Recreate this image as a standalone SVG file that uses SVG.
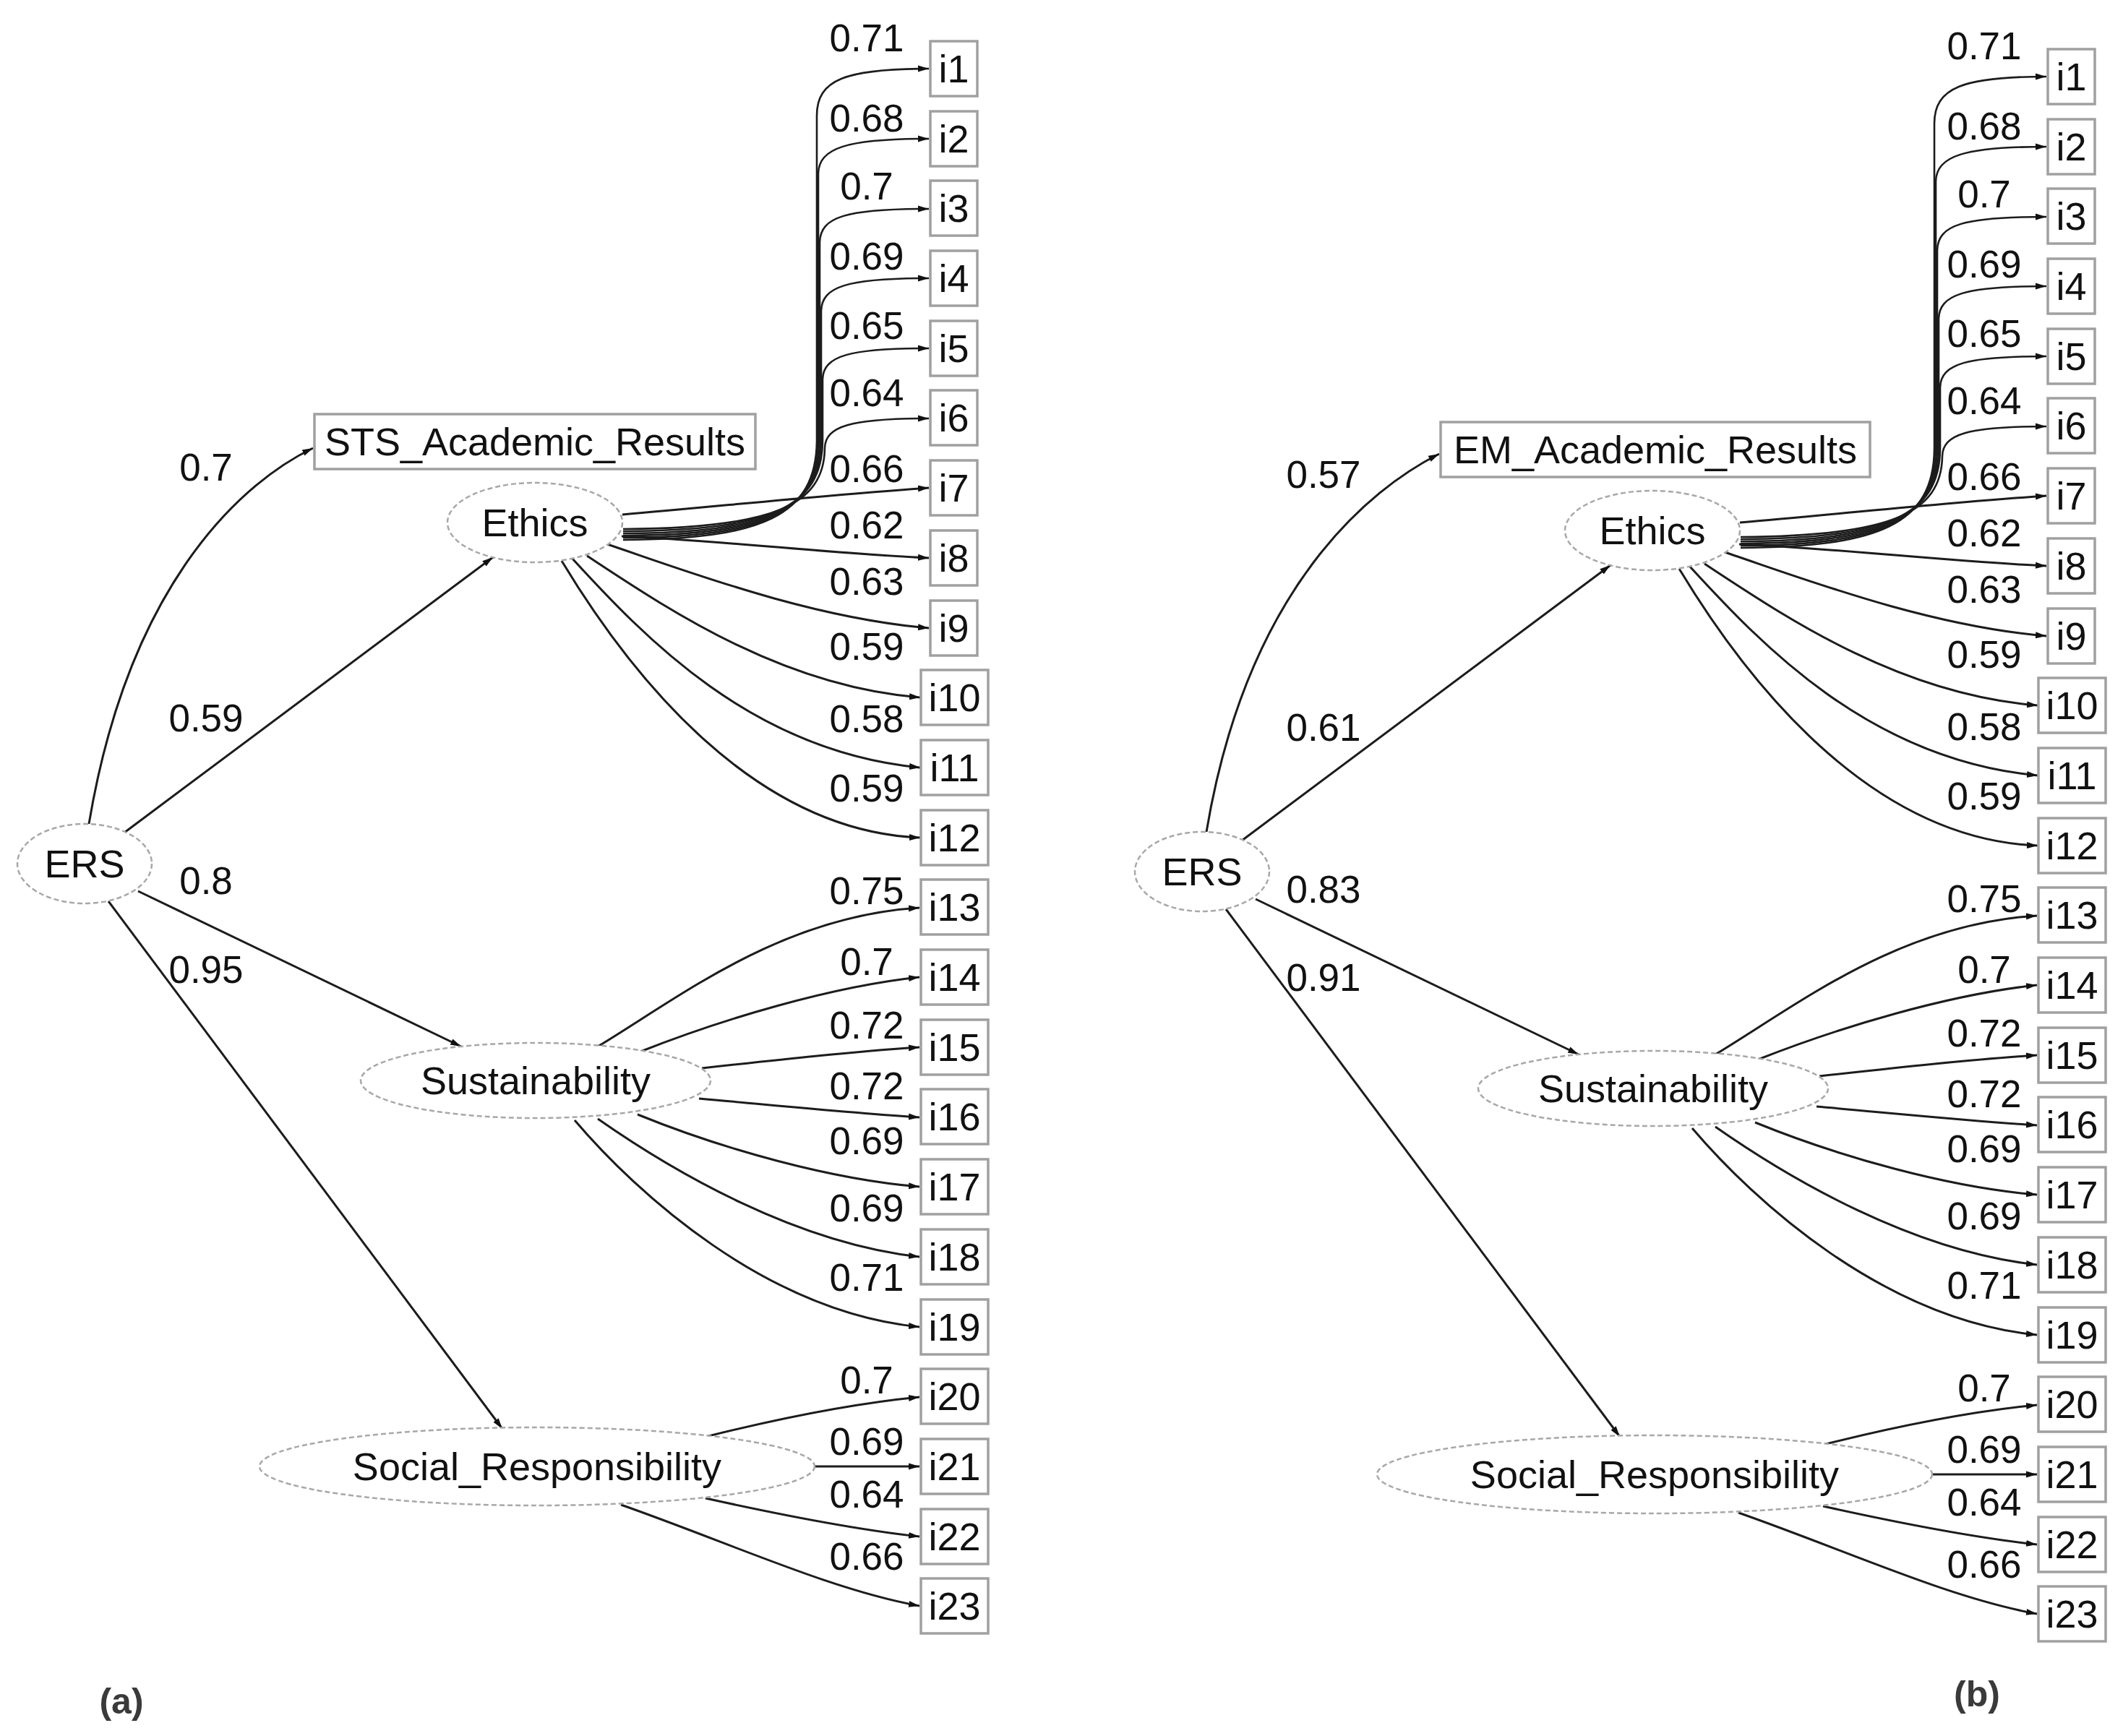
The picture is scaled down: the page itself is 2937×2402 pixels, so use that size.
<svg xmlns="http://www.w3.org/2000/svg" width="2937" height="2402" viewBox="0 0 2937 2402">
<style>
.box{fill:#fff;stroke:#a0a0a0;stroke-width:3.5}
.lat{fill:#fff;stroke:#a8a8a8;stroke-width:2.5;stroke-dasharray:7 4}
.t{font-family:"Liberation Sans",Arial,sans-serif;font-size:54px;fill:#111;text-anchor:middle}
.n{font-family:"Liberation Sans",Arial,sans-serif;font-size:53px;fill:#111;text-anchor:middle}
.e{fill:none;stroke:#1c1c1c;stroke-width:3;marker-end:url(#ah)}
.eb{fill:none;stroke:#1c1c1c;stroke-width:2.6;marker-end:url(#ah)}
.cap{font-family:"Liberation Sans",Arial,sans-serif;font-size:50px;fill:#3a3a3a;font-weight:bold;text-anchor:middle}
</style>
<defs>
<marker id="ah" markerUnits="userSpaceOnUse" markerWidth="16" markerHeight="12" refX="15" refY="6" orient="auto"><path d="M0,1.5 L15,6 L0,10.5 z" fill="#111"/></marker>
<g id="edgesTpl">
<path class="e" d="M172 1152 L682 771"/>
<path class="e" d="M191 1233 L638 1448"/>
<path class="e" d="M150 1247 L695 1977"/>
<path class="eb" d="M862 747 C1055 746,1129 714,1130 610 L1130 160 C1130 110,1170 95,1285 95"/>
<path class="eb" d="M862 744 C1058 743,1131 711,1132 610 L1132 240 C1133 205,1170 192,1285 192"/>
<path class="eb" d="M862 741 C1061 740,1133 708,1134 610 L1134 335 C1135 300,1170 289,1285 289"/>
<path class="eb" d="M862 738 C1064 737,1135 705,1136 610 L1136 430 C1137 397,1170 385,1285 385"/>
<path class="eb" d="M862 735 C1067 734,1137 702,1138 610 L1138 525 C1139 492,1175 482,1285 482"/>
<path class="eb" d="M862 732 C1070 731,1140 699,1141 620 C1142 590,1175 579,1285 579"/>
<path class="e" d="M861 712 C1000 700,1150 684,1285 675"/>
<path class="e" d="M860 742 C1000 748,1150 766,1285 772"/>
<path class="e" d="M840 753 C950 790,1120 855,1285 869"/>
<path class="e" d="M812 769 C920 840,1080 950,1273 965"/>
<path class="e" d="M791 772 C890 880,1040 1040,1273 1062"/>
<path class="e" d="M777 776 C870 930,1040 1150,1273 1159"/>
<path class="e" d="M827 1448 C940 1380,1080 1268,1272 1256"/>
<path class="e" d="M886 1455 C1000 1410,1150 1365,1272 1352"/>
<path class="e" d="M971 1478 C1080 1466,1180 1455,1272 1449"/>
<path class="e" d="M967 1520 C1080 1530,1180 1540,1272 1546"/>
<path class="e" d="M882 1542 C1000 1590,1150 1632,1272 1642"/>
<path class="e" d="M827 1548 C930 1620,1100 1720,1272 1739"/>
<path class="e" d="M795 1550 C880 1650,1060 1815,1272 1836"/>
<path class="e" d="M976 1988 C1080 1962,1180 1942,1272 1933"/>
<path class="e" d="M1127 2029 L1272 2029"/>
<path class="e" d="M976 2073 C1080 2096,1180 2116,1272 2126"/>
<path class="e" d="M859 2082 C1010 2135,1150 2200,1272 2222"/>
</g>
<g id="itemsTpl">
<g id="i1"><rect class="box" x="1287" y="57" width="65" height="76"/><text class="t" x="1319.5" y="114">i1</text></g>
<g id="i2"><rect class="box" x="1287" y="154" width="65" height="76"/><text class="t" x="1319.5" y="211">i2</text></g>
<g id="i3"><rect class="box" x="1287" y="250" width="65" height="76"/><text class="t" x="1319.5" y="307">i3</text></g>
<g id="i4"><rect class="box" x="1287" y="347" width="65" height="76"/><text class="t" x="1319.5" y="404">i4</text></g>
<g id="i5"><rect class="box" x="1287" y="444" width="65" height="76"/><text class="t" x="1319.5" y="501">i5</text></g>
<g id="i6"><rect class="box" x="1287" y="540" width="65" height="76"/><text class="t" x="1319.5" y="597">i6</text></g>
<g id="i7"><rect class="box" x="1287" y="637" width="65" height="76"/><text class="t" x="1319.5" y="694">i7</text></g>
<g id="i8"><rect class="box" x="1287" y="734" width="65" height="76"/><text class="t" x="1319.5" y="791">i8</text></g>
<g id="i9"><rect class="box" x="1287" y="831" width="65" height="76"/><text class="t" x="1319.5" y="888">i9</text></g>
<g id="i10"><rect class="box" x="1274" y="927" width="93" height="76"/><text class="t" x="1320.5" y="984">i10</text></g>
<g id="i11"><rect class="box" x="1274" y="1024" width="93" height="76"/><text class="t" x="1320.5" y="1081">i11</text></g>
<g id="i12"><rect class="box" x="1274" y="1121" width="93" height="76"/><text class="t" x="1320.5" y="1178">i12</text></g>
<g id="i13"><rect class="box" x="1274" y="1217" width="93" height="76"/><text class="t" x="1320.5" y="1274">i13</text></g>
<g id="i14"><rect class="box" x="1274" y="1314" width="93" height="76"/><text class="t" x="1320.5" y="1371">i14</text></g>
<g id="i15"><rect class="box" x="1274" y="1411" width="93" height="76"/><text class="t" x="1320.5" y="1468">i15</text></g>
<g id="i16"><rect class="box" x="1274" y="1507" width="93" height="76"/><text class="t" x="1320.5" y="1564">i16</text></g>
<g id="i17"><rect class="box" x="1274" y="1604" width="93" height="76"/><text class="t" x="1320.5" y="1661">i17</text></g>
<g id="i18"><rect class="box" x="1274" y="1701" width="93" height="76"/><text class="t" x="1320.5" y="1758">i18</text></g>
<g id="i19"><rect class="box" x="1274" y="1798" width="93" height="76"/><text class="t" x="1320.5" y="1855">i19</text></g>
<g id="i20"><rect class="box" x="1274" y="1894" width="93" height="76"/><text class="t" x="1320.5" y="1951">i20</text></g>
<g id="i21"><rect class="box" x="1274" y="1991" width="93" height="76"/><text class="t" x="1320.5" y="2048">i21</text></g>
<g id="i22"><rect class="box" x="1274" y="2088" width="93" height="76"/><text class="t" x="1320.5" y="2145">i22</text></g>
<g id="i23"><rect class="box" x="1274" y="2184" width="93" height="76"/><text class="t" x="1320.5" y="2241">i23</text></g>
<g id="ERS"><ellipse class="lat" cx="117" cy="1195" rx="93" ry="55"/><text class="t" x="117" y="1214">ERS</text></g>
<g id="Ethics"><ellipse class="lat" cx="740" cy="723" rx="121" ry="55"/><text class="t" x="740" y="742">Ethics</text></g>
<g id="Sustainability"><ellipse class="lat" cx="741" cy="1495" rx="242" ry="52"/><text class="t" x="741" y="1514">Sustainability</text></g>
<g id="Social_Responsibility"><ellipse class="lat" cx="743" cy="2029" rx="384" ry="54"/><text class="t" x="743" y="2048">Social_Responsibility</text></g>
</g>
<g id="loadTpl">
<text class="n" x="1199" y="71">0.71</text>
<text class="n" x="1199" y="182">0.68</text>
<text class="n" x="1199" y="276">0.7</text>
<text class="n" x="1199" y="373">0.69</text>
<text class="n" x="1199" y="469">0.65</text>
<text class="n" x="1199" y="562">0.64</text>
<text class="n" x="1199" y="667">0.66</text>
<text class="n" x="1199" y="745">0.62</text>
<text class="n" x="1199" y="823">0.63</text>
<text class="n" x="1199" y="913">0.59</text>
<text class="n" x="1199" y="1013">0.58</text>
<text class="n" x="1199" y="1109">0.59</text>
<text class="n" x="1199" y="1251">0.75</text>
<text class="n" x="1199" y="1349">0.7</text>
<text class="n" x="1199" y="1437">0.72</text>
<text class="n" x="1199" y="1521">0.72</text>
<text class="n" x="1199" y="1597">0.69</text>
<text class="n" x="1199" y="1690">0.69</text>
<text class="n" x="1199" y="1786">0.71</text>
<text class="n" x="1199" y="1928">0.7</text>
<text class="n" x="1199" y="2013">0.69</text>
<text class="n" x="1199" y="2086">0.64</text>
<text class="n" x="1199" y="2172">0.66</text>
</g>
</defs>
<rect width="2937" height="2402" fill="#fff"/>

<g id="panel_a">
<g id="connectors_a">
<path class="e" d="M123 1140 C180 800,340 665,433 620"/>
<use href="#edgesTpl"/>
</g>
<g id="labels_a">
<text class="n" x="285" y="665">0.7</text>
<text class="n" x="285" y="1012">0.59</text>
<text class="n" x="285" y="1237">0.8</text>
<text class="n" x="285" y="1360">0.95</text>
<use href="#loadTpl"/>
</g>
<g id="STS_Academic_Results"><rect class="box" x="435" y="573" width="610" height="76"/><text class="t" x="740" y="630">STS_Academic_Results</text></g>
<use href="#itemsTpl"/>
<text class="cap" x="168" y="2371">(a)</text>
</g>

<g id="panel_b" transform="translate(1546,11)">
<g id="connectors_b">
<path class="e" d="M123 1140 C180 800,350 665,445 617"/>
<use href="#edgesTpl"/>
</g>
<g id="labels_b">
<text class="n" x="285" y="664">0.57</text>
<text class="n" x="285" y="1014">0.61</text>
<text class="n" x="285" y="1238">0.83</text>
<text class="n" x="285" y="1360">0.91</text>
<use href="#loadTpl"/>
</g>
<g id="EM_Academic_Results"><rect class="box" x="447" y="573" width="594" height="76"/><text class="t" x="744" y="630">EM_Academic_Results</text></g>
<use href="#itemsTpl"/>
<text class="cap" x="1189" y="2350">(b)</text>
</g>
</svg>
